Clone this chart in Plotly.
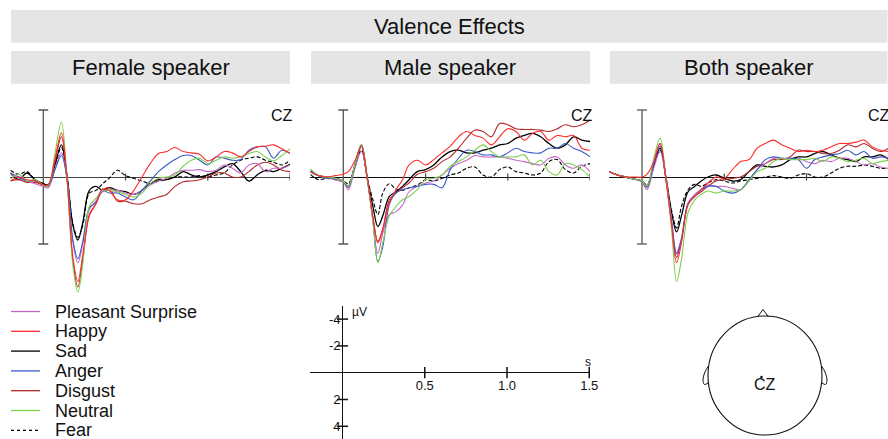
import plotly.graph_objects as go

W, H = 888, 439


def px(x):
    return x / W


def py(y):
    return 1 - y / H


# ---------------- data ----------------
T = [-0.2, -0.15, -0.1, -0.05, 0.0, 0.03, 0.07, 0.11, 0.145, 0.18, 0.21, 0.24, 0.28, 0.32,
     0.36, 0.40, 0.45, 0.50, 0.55, 0.60, 0.65, 0.70, 0.75, 0.80, 0.85, 0.90, 0.95, 1.00,
     1.05, 1.10, 1.15, 1.20, 1.25, 1.30, 1.35, 1.40, 1.45, 1.50]

EMOTIONS = ["Pleasant Surprise", "Happy", "Sad", "Anger", "Disgust", "Neutral", "Fear"]
PANELS = ["Female speaker", "Male speaker", "Both speaker"]
TITLE = "Valence Effects"
ELECTRODE = "CZ"

# Female speaker (µV, negative up)
f_pleasant = [-0.2, 0.1, 0.3, 0.5, 0.7, 0.8, -0.6, -1.8, 0.2, 4.9, 6.4, 5.0, 2.4, 1.8, 1.1, 1.0, 1.0, 1.2, 1.3,
              1.0, 0.6, 0.3, 0.1, -0.3, -0.5, -0.5, -0.55, -0.4, -0.5, -0.9, -0.65, -0.3, -0.9, -1.0, -0.4,
              -0.65, -0.65, -0.9]
f_happy = [0.3, 0.0, 0.2, 0.3, 0.6, 0.6, -1.3, -3.3, 0.2, 6.0, 7.8, 5.8, 2.9, 2.0, 0.9, 1.0, 1.7, 1.7, 1.0,
           0.0, -1.0, -1.75, -1.9, -2.2, -1.9, -1.8, -1.7, -1.2, -1.5, -1.9, -1.8, -1.5, -1.9, -2.25, -2.3,
           -2.4, -2.1, -1.75]
f_sad = [-0.3, 0.2, -0.3, 0.2, 0.5, 0.6, -0.9, -2.4, 0.0, 3.6, 4.7, 3.4, 1.0, 0.7, 1.0, 0.8, 1.0, 1.1, 1.3,
         1.0, 0.5, 0.2, 0.2, 0.0, -0.4, -0.15, 0.0, -0.15, -0.4, -0.75, -1.0, -0.4, 0.3, -0.15, -0.5, -0.4,
         -0.65, -0.95]
f_anger = [-0.3, 0.0, 0.3, 0.3, 0.6, 0.7, -0.5, -1.6, 0.2, 4.7, 6.1, 4.8, 2.3, 1.9, 1.0, 1.2, 1.2, 1.5, 1.7,
           1.0, 0.3, -0.4, -0.9, -1.3, -1.6, -1.6, -1.25, -0.9, -1.5, -1.4, -1.25, -1.3, -2.0, -2.25, -2.25,
           -1.4, -2.0, -1.75]
f_disgust = [0.3, 0.2, 0.4, 0.4, 0.6, 0.7, -1.1, -3.0, 0.3, 6.3, 8.2, 6.2, 2.8, 2.0, 1.0, 0.8, 1.8, 1.8, 2.0,
             2.0, 1.7, 1.5, 1.3, 0.7, 0.35, 0.3, 0.2, 0.0, -0.3, -0.3, 0.0, 0.0, -0.4, -0.9, -1.1, -0.9,
             -0.5, -0.4]
f_neutral = [0.2, -0.2, 0.3, 0.2, 0.6, 0.7, -1.7, -4.1, 0.3, 6.6, 8.6, 6.5, 2.2, 1.6, 1.0, 1.0, 1.1, 1.3, 1.5,
             1.2, 0.5, 0.1, 0.0, -0.15, -0.8, -1.25, -1.4, -1.0, -1.25, -1.5, -1.4, -1.5, -1.75, -1.9, -1.5,
             -1.2, -1.6, -2.1]
f_fear = [-0.5, -0.2, -0.4, 0.2, 0.5, 0.6, -0.8, -2.2, 0.0, 3.5, 4.5, 3.6, 1.2, 1.0, 0.5, 0.1, -0.5, -0.1,
          0.1, 0.3, 0.5, 0.3, 0.2, 0.0, 0.0, 0.0, -0.1, 0.0, -0.15, -0.3, -0.9, -1.25, -1.4, -1.5, -1.25,
          -1.1, -0.9, -1.25]

# Male speaker
m_pleasant = [-0.4, -0.1, 0.0, 0.2, 0.4, 0.95, -0.6, -1.9, 0.1, 3.3, 5.7, 4.2, 2.8, 2.6, 2.1, 1.1, 0.7,
              0.45, 0.3, -0.15, -0.65, -1.0, -1.25, -1.6, -1.5, -1.5, -1.5, -1.4, -1.25, -1.15, -1.0, -0.9,
              -1.4, -1.5, -0.9, -0.65, -0.9, -0.4]
m_happy = [-0.4, -0.1, 0.0, -0.1, -0.2, -0.4, -1.2, -2.3, 0.0, 3.0, 4.9, 3.9, 1.9, 0.95, 0.2, -0.9, -1.25,
           -0.9, -1.3, -1.8, -2.3, -3.0, -3.4, -3.1, -2.9, -2.4, -3.0, -3.6, -3.4, -2.75, -3.25, -3.4,
           -2.75, -3.1, -3.0, -3.1, -2.15, -2.0]
m_sad = [-0.4, -0.1, 0.0, 0.1, 0.3, 0.7, -0.8, -2.3, 0.0, 2.2, 3.7, 2.9, 1.45, 1.1, 0.7, 0.2, -0.4, -0.55,
         -0.9, -1.5, -1.9, -2.0, -1.8, -1.8, -2.0, -2.15, -2.4, -2.5, -2.9, -3.1, -3.25, -3.0, -2.5, -2.15,
         -2.4, -3.0, -2.75, -2.65]
m_anger = [-0.5, -0.1, 0.1, 0.1, 0.3, 0.8, -0.9, -2.4, 0.1, 3.2, 6.3, 5.2, 2.05, 1.2, 0.95, 0.8, 0.7, 0.55,
           0.55, 0.8, -0.55, -1.4, -2.0, -1.9, -1.65, -1.65, -1.5, -1.8, -2.15, -1.9, -1.8, -1.8, -2.15,
           -2.15, -2.5, -2.15, -1.9, -1.5]
m_disgust = [-0.4, -0.1, 0.0, 0.1, 0.3, 0.7, -0.9, -2.4, 0.0, 3.0, 4.8, 3.9, 1.7, 1.2, 0.8, 0.45, -0.2, -0.4,
             -0.65, -1.15, -1.5, -2.15, -2.9, -3.5, -3.4, -3.0, -4.0, -3.9, -3.6, -3.55, -3.55, -3.5, -3.4,
             -3.6, -3.9, -3.75, -3.9, -4.25]
m_neutral = [-0.6, -0.1, 0.0, 0.1, 0.3, 0.7, -0.9, -2.4, 0.1, 3.3, 6.4, 4.9, 2.9, 2.2, 1.7, 1.45, 0.95, 0.2,
             0.1, -0.15, -0.8, -1.15, -1.5, -2.0, -2.4, -1.9, -1.5, -1.5, -1.5, -1.65, -0.9, -1.25, -0.4,
             -0.15, -1.0, -0.9, -0.55, 0.0]
m_fear = [-0.2, 0.2, 0.1, 0.2, 0.3, 0.5, -0.8, -2.0, 0.1, 1.7, 2.8, 1.2, 0.5, 0.9, 1.0, 0.8, 0.6, 0.2, 0.3,
          0.1, -0.15, -0.3, -0.65, -0.75, -0.15, 0.0, -0.55, -0.75, -0.4, -0.3, -0.15, -0.3, -1.15, -1.3,
          -0.55, -0.3, -0.8, -1.0]

# Both speakers
b_pleasant = [-0.4, -0.15, 0.0, 0.15, 0.4, 0.95, -0.6, -1.9, 0.1, 3.2, 5.65, 4.55, 1.95, 1.3, 0.95, 0.6,
              0.7, 0.7, 0.85, 0.95, 0.3, -0.55, -1.0, -1.4, -1.4, -1.3, -1.4, -1.15, -1.0, -1.25, -1.15,
              -1.4, -1.4, -1.15, -0.9, -1.0, -0.75, -0.65]
b_happy = [-0.4, -0.15, 0.0, 0.0, 0.0, -0.2, -1.1, -2.5, 0.1, 3.6, 6.4, 4.9, 2.05, 1.45, 0.95, 0.45, 0.0,
           0.1, -0.55, -1.15, -1.3, -2.15, -2.5, -2.75, -2.4, -2.15, -1.9, -2.0, -1.9, -2.0, -2.25, -2.5,
           -2.5, -2.6, -2.75, -2.25, -2.0, -1.9]
b_sad = [-0.4, -0.15, 0.0, 0.15, 0.3, 0.7, -0.8, -2.15, 0.0, 2.65, 4.1, 2.9, 1.1, 0.7, 0.3, 0.0, -0.15, 0.1,
         0.3, 0.2, -0.4, -0.9, -0.8, -0.75, -0.9, -1.3, -1.5, -1.5, -1.75, -1.9, -1.65, -1.4, -1.3, -1.15,
         -1.5, -1.5, -1.65, -1.3]
b_anger = [-0.4, -0.15, 0.0, 0.15, 0.3, 0.8, -0.9, -2.3, 0.1, 3.4, 5.75, 4.65, 1.95, 1.45, 0.95, 0.7, 0.7,
           1.05, 1.2, 0.95, 0.2, -0.55, -1.3, -1.5, -1.4, -1.4, -1.3, -0.65, -1.3, -1.5, -1.65, -1.75, -2.0,
           -1.65, -1.9, -1.4, -1.5, -1.4]
b_disgust = [-0.4, -0.15, 0.0, 0.15, 0.3, 0.7, -1.0, -2.5, 0.1, 3.4, 6.0, 4.65, 2.05, 1.45, 1.1, 0.7, 0.3,
             0.2, 0.1, 0.0, -0.4, -0.8, -1.0, -1.3, -1.3, -1.5, -2.0, -1.9, -1.9, -1.75, -1.75, -2.0, -2.4,
             -2.25, -2.5, -2.15, -1.9, -2.15]
b_neutral = [-0.4, -0.15, 0.0, 0.15, 0.3, 0.7, -1.3, -2.9, 0.1, 3.9, 7.8, 6.15, 2.65, 1.7, 1.3, 1.05, 1.2,
             1.05, 1.05, 0.95, 0.3, -0.4, -0.65, -1.15, -1.4, -1.3, -1.3, -1.3, -1.4, -1.15, -1.5, -1.4,
             -1.15, -1.25, -1.4, -1.0, -1.15, -1.25]
b_fear = [-0.4, -0.15, 0.0, 0.15, 0.3, 0.6, -0.8, -2.0, 0.0, 2.5, 3.8, 2.2, 0.95, 0.55, 0.7, 0.45, 0.2, 0.3,
          0.45, 0.3, 0.2, 0.1, 0.0, -0.1, 0.0, 0.1, -0.15, -0.25, 0.0, 0.0, -0.3, -0.65, -0.8, -0.8, -0.9,
          -0.8, -0.65, -0.65]

SCALE_X_TICKS = [0.5, 1.0, 1.5]
SCALE_X_LABELS = ["0.5", "1.0", "1.5"]
SCALE_Y_TICKS = [-4, -2, 2, 4]
SCALE_Y_LABELS = ["-4", "-2", "2", "4"]
BAR_LIMITS = [-5, 5]

PANEL_DATA = [
    [f_pleasant, f_happy, f_sad, f_anger, f_disgust, f_neutral, f_fear],
    [m_pleasant, m_happy, m_sad, m_anger, m_disgust, m_neutral, m_fear],
    [b_pleasant, b_happy, b_sad, b_anger, b_disgust, b_neutral, b_fear],
]

# ---------------- styles ----------------
COLORS = ["#c865c8", "#ff2b2b", "#000000", "#3b5bc6", "#b42a2a", "#7bd04c", "#000000"]
DASHES = ["solid", "solid", "solid", "solid", "solid", "solid", "4px,2px"]
WIDTHS = [1.1, 1.1, 1.3, 1.1, 1.1, 1.1, 1.1]
DRAW_ORDER = [6, 2, 4, 0, 3, 5, 1]
FONT = "Liberation Sans, Arial, Helvetica, sans-serif"

S_PX = 164.5       # pixels per second
V_PX = 13.4        # pixels per microvolt
ZERO_Y = 177.0
PANEL_ZERO_X = [43.3, 343.3, 642.0]
PANEL_TOP, PANEL_BOT = 100.0, 300.0
CZ_ANCHOR_T = 1.3
CZ_OFFSET = [-21, -21, -23]

fig = go.Figure()
layout = dict(
    width=W, height=H, autosize=False, margin=dict(l=0, r=0, t=0, b=0, pad=0, autoexpand=False),
    paper_bgcolor="white", plot_bgcolor="rgba(0,0,0,0)",
    showlegend=False, font=dict(family=FONT, color="#111"),
)
shapes, annotations = [], []


def tick_marker(symbol, size, color, width):
    return dict(symbol=symbol, size=size, color=color, line=dict(color=color, width=width))


for p, series in enumerate(PANEL_DATA):
    k = p + 1
    z = PANEL_ZERO_X[p]
    left = z + T[0] * S_PX
    right = min(z + T[-1] * S_PX, W)
    t_right = (right - z) / S_PX
    y_top = (PANEL_TOP - ZERO_Y) / V_PX
    y_bot = (PANEL_BOT - ZERO_Y) / V_PX
    xa, ya = f"x{k}", f"y{k}"
    layout[f"xaxis{k}"] = dict(domain=[px(left), px(right)], range=[T[0], t_right], anchor=ya,
                               showgrid=False, zeroline=False, showticklabels=False, ticks="",
                               showline=False, fixedrange=True, automargin=False)
    layout[f"yaxis{k}"] = dict(domain=[py(PANEL_BOT), py(PANEL_TOP)], range=[y_bot, y_top], anchor=xa,
                               showgrid=False, zeroline=True,
                               zerolinecolor="#444" if p == 0 else "#111", zerolinewidth=1.2,
                               showticklabels=False, ticks="", showline=False, fixedrange=True,
                               automargin=False)
    # calibration bar
    fig.add_trace(go.Scatter(x=[0, 0], y=BAR_LIMITS, xaxis=xa, yaxis=ya, mode="lines+markers",
                             line=dict(color="#555", width=1.3),
                             marker=tick_marker("line-ew-open", 7, "#555", 1.3),
                             hoverinfo="skip"))
    # ticks on the time line
    fig.add_trace(go.Scatter(x=SCALE_X_TICKS, y=[0] * len(SCALE_X_TICKS), xaxis=xa, yaxis=ya, mode="markers",
                             marker=tick_marker("line-ns-open", 5, "#444", 1.2),
                             hoverinfo="skip"))
    for i in DRAW_ORDER:
        fig.add_trace(go.Scatter(x=T, y=series[i], xaxis=xa, yaxis=ya, mode="lines", name=EMOTIONS[i],
                                 line=dict(color=COLORS[i], width=WIDTHS[i], dash=DASHES[i],
                                           shape="spline", smoothing=1.0)))
    annotations.append(dict(text=ELECTRODE, xref=xa, yref="paper", x=CZ_ANCHOR_T,
                            xshift=(1.5 - CZ_ANCHOR_T) * S_PX + CZ_OFFSET[p],
                            y=py(115.5), xanchor="left", yanchor="middle", showarrow=False,
                            font=dict(size=16, color="#111")))

# banners
shapes.append(dict(type="rect", xref="paper", yref="paper", x0=px(11), x1=px(887.5), y0=py(42.7), y1=py(10),
                   fillcolor="#e5e5e5", line=dict(width=0), layer="below"))
annotations.append(dict(text=TITLE, xref="paper", yref="paper", x=px(449.5), y=py(26.5), xanchor="center",
                        yanchor="middle", showarrow=False, font=dict(size=22, color="#111")))
SUB_X = [(11, 290), (311, 590), (610, 887.5)]
for (a, b), name in zip(SUB_X, PANELS):
    shapes.append(dict(type="rect", xref="paper", yref="paper", x0=px(a), x1=px(b), y0=py(83.7), y1=py(51),
                       fillcolor="#e5e5e5", line=dict(width=0), layer="below"))
    annotations.append(dict(text=name, xref="paper", yref="paper", x=px((a + b) / 2), y=py(67.5),
                            xanchor="center", yanchor="middle", showarrow=False,
                            font=dict(size=22, color="#111")))

# manual legend
for i, name in enumerate(EMOTIONS):
    yy = 311.5 + 19.8 * i
    shapes.append(dict(type="line", xref="paper", yref="paper", x0=px(11), x1=px(40), y0=py(yy), y1=py(yy),
                       line=dict(color=COLORS[i], width=1.3, dash="3px,3px" if DASHES[i] != "solid" else "solid")))
    annotations.append(dict(text=name, xref="paper", yref="paper", x=px(53), y=py(yy), xanchor="left",
                            yanchor="middle", showarrow=False, font=dict(size=18, color="#111")))

# scale axes (x4 / y4)
SZ_X, SZ_Y = 342.5, 372.7
s_left = SZ_X + T[0] * S_PX
s_right = SZ_X + 1.5 * S_PX
s_top, s_bot = 306.0, 439.0
layout["xaxis4"] = dict(domain=[px(s_left), px(s_right)], range=[T[0], 1.5], anchor="free",
                        position=py(SZ_Y), tickvals=SCALE_X_TICKS, ticktext=SCALE_X_LABELS, ticks="",
                        showgrid=False, showline=False, zeroline=True, zerolinecolor="#111", zerolinewidth=1.3,
                        tickfont=dict(size=13, color="#111"), ticklabelstandoff=3, fixedrange=True,
                        automargin=False)
layout["yaxis4"] = dict(domain=[py(s_bot), py(s_top)], range=[(s_bot - SZ_Y) / V_PX, (s_top - SZ_Y) / V_PX],
                        anchor="free", position=px(SZ_X), tickvals=SCALE_Y_TICKS, ticktext=SCALE_Y_LABELS,
                        ticks="", showgrid=False, showline=False, zeroline=True, zerolinecolor="#111",
                        zerolinewidth=1.3, tickfont=dict(size=13, color="#111"), ticklabelstandoff=2,
                        fixedrange=True, automargin=False)
fig.add_trace(go.Scatter(x=SCALE_X_TICKS, y=[0] * len(SCALE_X_TICKS), xaxis="x4", yaxis="y4", mode="markers",
                         marker=tick_marker("line-ns-open", 8, "#111", 1.5),
                         cliponaxis=False, hoverinfo="skip"))
fig.add_trace(go.Scatter(x=[0] * len(SCALE_Y_TICKS), y=SCALE_Y_TICKS, xaxis="x4", yaxis="y4", mode="markers",
                         marker=tick_marker("line-ew-open", 8, "#111", 1.5),
                         cliponaxis=False, hoverinfo="skip"))
annotations.append(dict(text="µV", xref="paper", yref="paper", x=px(350), y=py(312), xanchor="left",
                        yanchor="middle", showarrow=False, font=dict(size=12, color="#111")))
annotations.append(dict(text="s", xref="paper", yref="paper", x=px(588), y=py(362), xanchor="center",
                        yanchor="middle", showarrow=False, font=dict(size=12, color="#111")))

# head schematic (x5 / y5), 1 unit = 1 pixel
layout["xaxis5"] = dict(domain=[px(690), px(840)], range=[690, 840], anchor="y5", visible=False,
                        fixedrange=True, automargin=False)
layout["yaxis5"] = dict(domain=[py(439), py(300)], range=[439, 300], anchor="x5", visible=False,
                        fixedrange=True, automargin=False)
shapes.append(dict(type="circle", xref="x5", yref="y5", x0=708, x1=822, y0=316, y1=435,
                   line=dict(color="#111", width=1.1)))
fig.add_trace(go.Scatter(x=[757.5, 763, 768.5], y=[317, 309.5, 317], xaxis="x5", yaxis="y5", mode="lines",
                         line=dict(color="#111", width=1.0), hoverinfo="skip"))
for sgn in (-1, 1):
    ex = [765 + sgn * d for d in (56.5, 60, 62, 60.5, 57)]
    fig.add_trace(go.Scatter(x=ex, y=[366, 372, 380, 384.5, 383], xaxis="x5", yaxis="y5", mode="lines",
                             line=dict(color="#111", width=1.0, shape="spline"), hoverinfo="skip"))
fig.add_trace(go.Scatter(x=[761.5], y=[377], xaxis="x5", yaxis="y5", mode="markers",
                         marker=dict(size=2.5, color="#111"), hoverinfo="skip"))
annotations.append(dict(text=ELECTRODE, xref="x5", yref="y5", x=765, y=384.5, xanchor="center",
                        yanchor="middle", showarrow=False, font=dict(size=16, color="#111")))

layout["shapes"] = shapes
layout["annotations"] = annotations
fig.update_layout(**layout)
fig.write_html(
    "out.html",
    config={"displayModeBar": False, "responsive": False},
    post_script="document.documentElement.style.overflow='hidden';"
                "document.body.style.margin='0';document.body.style.overflow='hidden';",
)
